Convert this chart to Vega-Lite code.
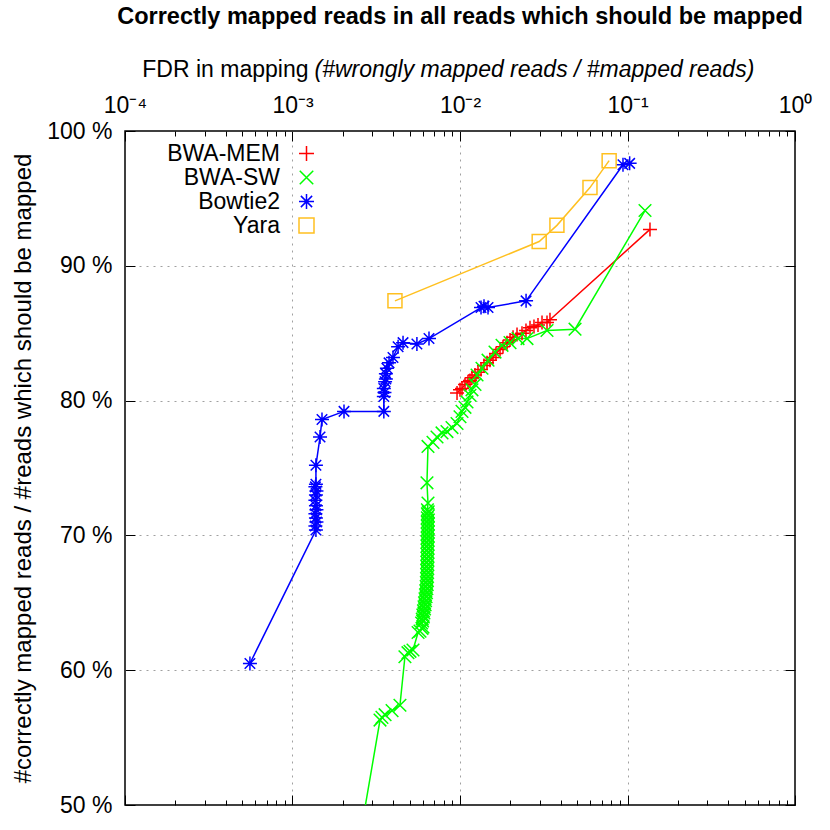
{
  "$schema": "https://vega.github.io/schema/vega-lite/v6.json",
  "width": 670,
  "height": 674,
  "autosize": {"type": "none"},
  "padding": {"left": 125, "top": 131, "right": 35, "bottom": 25},
  "background": "white",
  "config": {
    "view": {"stroke": "#000000", "strokeWidth": 1.5},
    "font": "Liberation Sans",
    "axis": {"labelFont": "Liberation Sans", "titleFont": "Liberation Sans", "labelColor": "#000000", "titleColor": "#000000", "tickColor": "#000000", "tickWidth": 1, "domain": false}
  },
  "title": {"text": "Correctly mapped reads in all reads which should be mapped", "font": "Liberation Sans", "fontSize": 23.5, "fontWeight": "bold", "color": "#000000", "anchor": "middle", "offset": 30},
  "data": {"values": [
    {"s": "BWA-MEM", "x": 0.0096, "y": 80.56},
    {"s": "BWA-MEM", "x": 0.0100, "y": 80.8},
    {"s": "BWA-MEM", "x": 0.01028, "y": 80.9},
    {"s": "BWA-MEM", "x": 0.01071, "y": 81.2},
    {"s": "BWA-MEM", "x": 0.01116, "y": 81.4},
    {"s": "BWA-MEM", "x": 0.01147, "y": 81.5},
    {"s": "BWA-MEM", "x": 0.01179, "y": 81.7},
    {"s": "BWA-MEM", "x": 0.01229, "y": 81.9},
    {"s": "BWA-MEM", "x": 0.01281, "y": 82.1},
    {"s": "BWA-MEM", "x": 0.01335, "y": 82.3},
    {"s": "BWA-MEM", "x": 0.01391, "y": 82.6},
    {"s": "BWA-MEM", "x": 0.0145, "y": 82.8},
    {"s": "BWA-MEM", "x": 0.0151, "y": 83.0},
    {"s": "BWA-MEM", "x": 0.01574, "y": 83.2},
    {"s": "BWA-MEM", "x": 0.0164, "y": 83.5},
    {"s": "BWA-MEM", "x": 0.01734, "y": 83.8},
    {"s": "BWA-MEM", "x": 0.01806, "y": 84.0},
    {"s": "BWA-MEM", "x": 0.01909, "y": 84.3},
    {"s": "BWA-MEM", "x": 0.01989, "y": 84.5},
    {"s": "BWA-MEM", "x": 0.02073, "y": 84.7},
    {"s": "BWA-MEM", "x": 0.0219, "y": 84.9},
    {"s": "BWA-MEM", "x": 0.02345, "y": 85.0},
    {"s": "BWA-MEM", "x": 0.02477, "y": 85.2},
    {"s": "BWA-MEM", "x": 0.02618, "y": 85.4},
    {"s": "BWA-MEM", "x": 0.02765, "y": 85.5},
    {"s": "BWA-MEM", "x": 0.02922, "y": 85.6},
    {"s": "BWA-MEM", "x": 0.03088, "y": 85.8},
    {"s": "BWA-MEM", "x": 0.03307, "y": 85.8},
    {"s": "BWA-MEM", "x": 0.03445, "y": 86.0},
    {"s": "BWA-MEM", "x": 0.1362, "y": 92.7},
    {"s": "BWA-SW", "x": 0.0024, "y": 46.0},
    {"s": "BWA-SW", "x": 0.00333, "y": 56.3},
    {"s": "BWA-SW", "x": 0.00342, "y": 56.5},
    {"s": "BWA-SW", "x": 0.00357, "y": 56.7},
    {"s": "BWA-SW", "x": 0.00393, "y": 57.0},
    {"s": "BWA-SW", "x": 0.00438, "y": 57.4},
    {"s": "BWA-SW", "x": 0.00469, "y": 61.0},
    {"s": "BWA-SW", "x": 0.00489, "y": 61.3},
    {"s": "BWA-SW", "x": 0.00503, "y": 61.4},
    {"s": "BWA-SW", "x": 0.00524, "y": 61.5},
    {"s": "BWA-SW", "x": 0.00562, "y": 62.8},
    {"s": "BWA-SW", "x": 0.00577, "y": 62.9},
    {"s": "BWA-SW", "x": 0.00593, "y": 63.1},
    {"s": "BWA-SW", "x": 0.00601, "y": 63.2},
    {"s": "BWA-SW", "x": 0.0059, "y": 63.5},
    {"s": "BWA-SW", "x": 0.00598, "y": 63.65},
    {"s": "BWA-SW", "x": 0.00595, "y": 63.8},
    {"s": "BWA-SW", "x": 0.00604, "y": 63.95},
    {"s": "BWA-SW", "x": 0.0060, "y": 64.1},
    {"s": "BWA-SW", "x": 0.00609, "y": 64.25},
    {"s": "BWA-SW", "x": 0.00605, "y": 64.4},
    {"s": "BWA-SW", "x": 0.00614, "y": 64.55},
    {"s": "BWA-SW", "x": 0.0061, "y": 64.7},
    {"s": "BWA-SW", "x": 0.00619, "y": 64.85},
    {"s": "BWA-SW", "x": 0.00614, "y": 65.0},
    {"s": "BWA-SW", "x": 0.00623, "y": 65.15},
    {"s": "BWA-SW", "x": 0.00618, "y": 65.3},
    {"s": "BWA-SW", "x": 0.00627, "y": 65.45},
    {"s": "BWA-SW", "x": 0.00622, "y": 65.6},
    {"s": "BWA-SW", "x": 0.00631, "y": 65.75},
    {"s": "BWA-SW", "x": 0.00625, "y": 65.9},
    {"s": "BWA-SW", "x": 0.00634, "y": 66.05},
    {"s": "BWA-SW", "x": 0.00628, "y": 66.2},
    {"s": "BWA-SW", "x": 0.00637, "y": 66.35},
    {"s": "BWA-SW", "x": 0.0063, "y": 66.5},
    {"s": "BWA-SW", "x": 0.00639, "y": 66.65},
    {"s": "BWA-SW", "x": 0.00631, "y": 66.8},
    {"s": "BWA-SW", "x": 0.0064, "y": 66.95},
    {"s": "BWA-SW", "x": 0.00632, "y": 67.1},
    {"s": "BWA-SW", "x": 0.00641, "y": 67.25},
    {"s": "BWA-SW", "x": 0.00633, "y": 67.4},
    {"s": "BWA-SW", "x": 0.00642, "y": 67.55},
    {"s": "BWA-SW", "x": 0.00634, "y": 67.7},
    {"s": "BWA-SW", "x": 0.00643, "y": 67.85},
    {"s": "BWA-SW", "x": 0.00634, "y": 68.0},
    {"s": "BWA-SW", "x": 0.00643, "y": 68.15},
    {"s": "BWA-SW", "x": 0.00635, "y": 68.3},
    {"s": "BWA-SW", "x": 0.00644, "y": 68.45},
    {"s": "BWA-SW", "x": 0.00635, "y": 68.6},
    {"s": "BWA-SW", "x": 0.00644, "y": 68.75},
    {"s": "BWA-SW", "x": 0.00636, "y": 68.9},
    {"s": "BWA-SW", "x": 0.00645, "y": 69.05},
    {"s": "BWA-SW", "x": 0.00636, "y": 69.2},
    {"s": "BWA-SW", "x": 0.00645, "y": 69.35},
    {"s": "BWA-SW", "x": 0.00636, "y": 69.5},
    {"s": "BWA-SW", "x": 0.00645, "y": 69.65},
    {"s": "BWA-SW", "x": 0.00637, "y": 69.8},
    {"s": "BWA-SW", "x": 0.00646, "y": 69.95},
    {"s": "BWA-SW", "x": 0.00637, "y": 70.1},
    {"s": "BWA-SW", "x": 0.00646, "y": 70.25},
    {"s": "BWA-SW", "x": 0.00637, "y": 70.4},
    {"s": "BWA-SW", "x": 0.00646, "y": 70.55},
    {"s": "BWA-SW", "x": 0.00638, "y": 70.7},
    {"s": "BWA-SW", "x": 0.00647, "y": 70.85},
    {"s": "BWA-SW", "x": 0.00638, "y": 71.0},
    {"s": "BWA-SW", "x": 0.00647, "y": 71.15},
    {"s": "BWA-SW", "x": 0.00638, "y": 71.3},
    {"s": "BWA-SW", "x": 0.00647, "y": 71.45},
    {"s": "BWA-SW", "x": 0.00639, "y": 71.6},
    {"s": "BWA-SW", "x": 0.00646, "y": 71.75},
    {"s": "BWA-SW", "x": 0.00639, "y": 71.9},
    {"s": "BWA-SW", "x": 0.00644, "y": 72.4},
    {"s": "BWA-SW", "x": 0.00635, "y": 73.9},
    {"s": "BWA-SW", "x": 0.00644, "y": 76.6},
    {"s": "BWA-SW", "x": 0.0069, "y": 76.9},
    {"s": "BWA-SW", "x": 0.00729, "y": 77.3},
    {"s": "BWA-SW", "x": 0.00781, "y": 77.6},
    {"s": "BWA-SW", "x": 0.00836, "y": 77.7},
    {"s": "BWA-SW", "x": 0.00896, "y": 78.0},
    {"s": "BWA-SW", "x": 0.0096, "y": 78.3},
    {"s": "BWA-SW", "x": 0.0100, "y": 78.8},
    {"s": "BWA-SW", "x": 0.01028, "y": 79.2},
    {"s": "BWA-SW", "x": 0.01071, "y": 79.5},
    {"s": "BWA-SW", "x": 0.01101, "y": 79.9},
    {"s": "BWA-SW", "x": 0.01147, "y": 80.4},
    {"s": "BWA-SW", "x": 0.01179, "y": 80.8},
    {"s": "BWA-SW", "x": 0.01229, "y": 81.2},
    {"s": "BWA-SW", "x": 0.01264, "y": 81.9},
    {"s": "BWA-SW", "x": 0.01353, "y": 82.4},
    {"s": "BWA-SW", "x": 0.0147, "y": 83.0},
    {"s": "BWA-SW", "x": 0.01618, "y": 83.6},
    {"s": "BWA-SW", "x": 0.01782, "y": 84.1},
    {"s": "BWA-SW", "x": 0.01989, "y": 84.3},
    {"s": "BWA-SW", "x": 0.02221, "y": 84.6},
    {"s": "BWA-SW", "x": 0.02512, "y": 84.6},
    {"s": "BWA-SW", "x": 0.03307, "y": 85.2},
    {"s": "BWA-SW", "x": 0.04861, "y": 85.3},
    {"s": "BWA-SW", "x": 0.1272, "y": 94.1},
    {"s": "Bowtie2", "x": 0.000557, "y": 60.5},
    {"s": "Bowtie2", "x": 0.00138, "y": 70.4},
    {"s": "Bowtie2", "x": 0.00137, "y": 70.7},
    {"s": "Bowtie2", "x": 0.00139, "y": 71.0},
    {"s": "Bowtie2", "x": 0.00138, "y": 71.3},
    {"s": "Bowtie2", "x": 0.00137, "y": 71.6},
    {"s": "Bowtie2", "x": 0.00139, "y": 71.9},
    {"s": "Bowtie2", "x": 0.00138, "y": 72.2},
    {"s": "Bowtie2", "x": 0.00137, "y": 72.6},
    {"s": "Bowtie2", "x": 0.00138, "y": 73.0},
    {"s": "Bowtie2", "x": 0.00139, "y": 73.3},
    {"s": "Bowtie2", "x": 0.00137, "y": 73.6},
    {"s": "Bowtie2", "x": 0.00138, "y": 73.8},
    {"s": "Bowtie2", "x": 0.00138, "y": 75.2},
    {"s": "Bowtie2", "x": 0.00146, "y": 77.3},
    {"s": "Bowtie2", "x": 0.0015, "y": 78.6},
    {"s": "Bowtie2", "x": 0.00203, "y": 79.2},
    {"s": "Bowtie2", "x": 0.00351, "y": 79.2},
    {"s": "Bowtie2", "x": 0.00351, "y": 80.3},
    {"s": "Bowtie2", "x": 0.00354, "y": 80.6},
    {"s": "Bowtie2", "x": 0.00351, "y": 80.9},
    {"s": "Bowtie2", "x": 0.00357, "y": 81.4},
    {"s": "Bowtie2", "x": 0.00361, "y": 81.6},
    {"s": "Bowtie2", "x": 0.00361, "y": 82.0},
    {"s": "Bowtie2", "x": 0.00366, "y": 82.4},
    {"s": "Bowtie2", "x": 0.00377, "y": 82.8},
    {"s": "Bowtie2", "x": 0.00398, "y": 83.2},
    {"s": "Bowtie2", "x": 0.00427, "y": 84.0},
    {"s": "Bowtie2", "x": 0.00457, "y": 84.3},
    {"s": "Bowtie2", "x": 0.00553, "y": 84.2},
    {"s": "Bowtie2", "x": 0.00653, "y": 84.6},
    {"s": "Bowtie2", "x": 0.01335, "y": 86.9},
    {"s": "Bowtie2", "x": 0.01391, "y": 87.0},
    {"s": "Bowtie2", "x": 0.0147, "y": 86.9},
    {"s": "Bowtie2", "x": 0.0248, "y": 87.4},
    {"s": "Bowtie2", "x": 0.094, "y": 97.5},
    {"s": "Bowtie2", "x": 0.103, "y": 97.6},
    {"s": "Yara", "x": 0.00409, "y": 87.4},
    {"s": "Yara", "x": 0.0297, "y": 91.8},
    {"s": "Yara", "x": 0.0379, "y": 93.0},
    {"s": "Yara", "x": 0.0597, "y": 95.8},
    {"s": "Yara", "x": 0.0777, "y": 97.8}
  ]},
  "layer": [
    {
      "mark": {"type": "line", "strokeWidth": 1.5, "clip": true},
      "encoding": {
        "x": {"field": "x", "type": "quantitative",
          "scale": {"type": "log", "domain": [0.0001, 1], "nice": false},
          "axis": {"orient": "top", "values": [0.0001, 0.001, 0.01, 0.1, 1], "ticks": false, "grid": true,
            "gridColor": "#a0a0a0", "gridDash": [2, 5], "gridWidth": 1,
            "gridOpacity": {"condition": {"test": "datum.value > 0.0005 && datum.value < 0.5", "value": 1}, "value": 0},
            "labelExpr": "datum.value < 0.0005 ? '10⁻⁴' : datum.value < 0.005 ? '10⁻³' : datum.value < 0.05 ? '10⁻²' : datum.value < 0.5 ? '10⁻¹' : '10⁰'",
            "labelFontSize": 23, "labelPadding": 14, "labelFlush": false,
            "title": "FDR in mapping", "titleFontSize": 23, "titleFontWeight": "normal",
            "titleX": 183, "titleY": -55, "titleAlign": "right", "titleBaseline": "alphabetic", "titleAnchor": null}},
        "y": {"field": "y", "type": "quantitative",
          "scale": {"domain": [50, 100], "nice": false, "zero": false},
          "axis": {"values": [50, 60, 70, 80, 90, 100], "ticks": false, "grid": true,
            "gridColor": "#a0a0a0", "gridDash": [2, 5], "gridWidth": 1,
            "gridOpacity": {"condition": {"test": "datum.value > 55 && datum.value < 95", "value": 1}, "value": 0},
            "labelExpr": "datum.value + ' %'", "labelFontSize": 23, "labelPadding": 13, "labelFlush": false,
            "title": "#correctly mapped reads / #reads which should be mapped", "titleFontSize": 24, "titleFontWeight": "normal", "titlePadding": 11}},
        "color": {"field": "s", "type": "nominal",
          "scale": {"domain": ["BWA-MEM", "BWA-SW", "Bowtie2", "Yara"], "range": ["#ff0000", "#00ff00", "#0000ff", "#ffc020"]}},
        "order": {"value": null}
      }
    },
    {
      "mark": {"type": "point", "filled": false, "strokeWidth": 1.5, "size": 196, "opacity": 1, "clip": true},
      "encoding": {
        "x": {"field": "x", "type": "quantitative",
          "axis": {"orient": "top", "values": [0.0001, 0.0002, 0.0003, 0.0004, 0.0005, 0.0006, 0.0007, 0.0008, 0.0009, 0.001, 0.002, 0.003, 0.004, 0.005, 0.006, 0.007, 0.008, 0.009, 0.01, 0.02, 0.03, 0.04, 0.05, 0.06, 0.07, 0.08, 0.09, 0.1, 0.2, 0.3, 0.4, 0.5, 0.6, 0.7, 0.8, 0.9, 1],
            "labels": false, "grid": false, "title": null,
            "tickSize": {"condition": {"test": "abs(log(datum.value)/LN10 - round(log(datum.value)/LN10)) < 0.01", "value": -10}, "value": -5}}},
        "y": {"field": "y", "type": "quantitative",
          "axis": {"orient": "left", "values": [50, 60, 70, 80, 90, 100], "labels": false, "grid": false, "title": null, "tickSize": -10}},
        "color": {"field": "s", "type": "nominal",
          "legend": {"title": null, "orient": "none", "legendX": 170, "legendY": 11, "labelAlign": "right", "labelOffset": -38,
            "labelFontSize": 23, "labelFont": "Liberation Sans", "labelColor": "#000000", "symbolSize": 225, "symbolStrokeWidth": 1.5, "rowPadding": -3}},
        "shape": {"field": "s", "type": "nominal",
          "scale": {"domain": ["BWA-MEM", "BWA-SW", "Bowtie2", "Yara"],
            "range": ["M-1,0L1,0M0,-1L0,1", "M-0.9,-0.9L0.9,0.9M-0.9,0.9L0.9,-0.9", "M-1,0L1,0M0,-1L0,1M-0.75,-0.75L0.75,0.75M-0.75,0.75L0.75,-0.75", "M-1,-1H1V1H-1Z"]},
          "legend": {"title": null, "orient": "none", "legendX": 170, "legendY": 11, "labelAlign": "right", "labelOffset": -38,
            "labelFontSize": 23, "labelFont": "Liberation Sans", "labelColor": "#000000", "symbolSize": 225, "symbolStrokeWidth": 1.5, "rowPadding": -3}}
      }
    },
    {
      "mark": {"type": "point", "opacity": 0, "clip": true},
      "encoding": {
        "x": {"field": "x", "type": "quantitative",
          "axis": {"orient": "top", "values": [0.0001, 0.001, 0.01, 0.1, 1], "labels": false, "ticks": false, "grid": false,
            "title": "(#wrongly mapped reads / #mapped reads)", "titleFontSize": 23, "titleFontWeight": "normal", "titleFontStyle": "italic",
            "titleX": 189, "titleY": -55, "titleAlign": "left", "titleBaseline": "alphabetic", "titleAnchor": null}},
        "y": {"field": "y", "type": "quantitative",
          "axis": {"orient": "right", "values": [50, 60, 70, 80, 90, 100], "labels": false, "grid": false, "title": null, "tickSize": -10}}
      }
    },
    {
      "mark": {"type": "point", "opacity": 0, "clip": true},
      "encoding": {
        "x": {"field": "x", "type": "quantitative",
          "axis": {"orient": "bottom", "values": [0.0001, 0.0002, 0.0003, 0.0004, 0.0005, 0.0006, 0.0007, 0.0008, 0.0009, 0.001, 0.002, 0.003, 0.004, 0.005, 0.006, 0.007, 0.008, 0.009, 0.01, 0.02, 0.03, 0.04, 0.05, 0.06, 0.07, 0.08, 0.09, 0.1, 0.2, 0.3, 0.4, 0.5, 0.6, 0.7, 0.8, 0.9, 1],
            "labels": false, "grid": false, "title": null,
            "tickSize": {"condition": {"test": "abs(log(datum.value)/LN10 - round(log(datum.value)/LN10)) < 0.01", "value": -10}, "value": -5}}},
        "y": {"field": "y", "type": "quantitative", "axis": null}
      }
    }
  ],
  "resolve": {"axis": {"x": "independent", "y": "independent"}}
}
